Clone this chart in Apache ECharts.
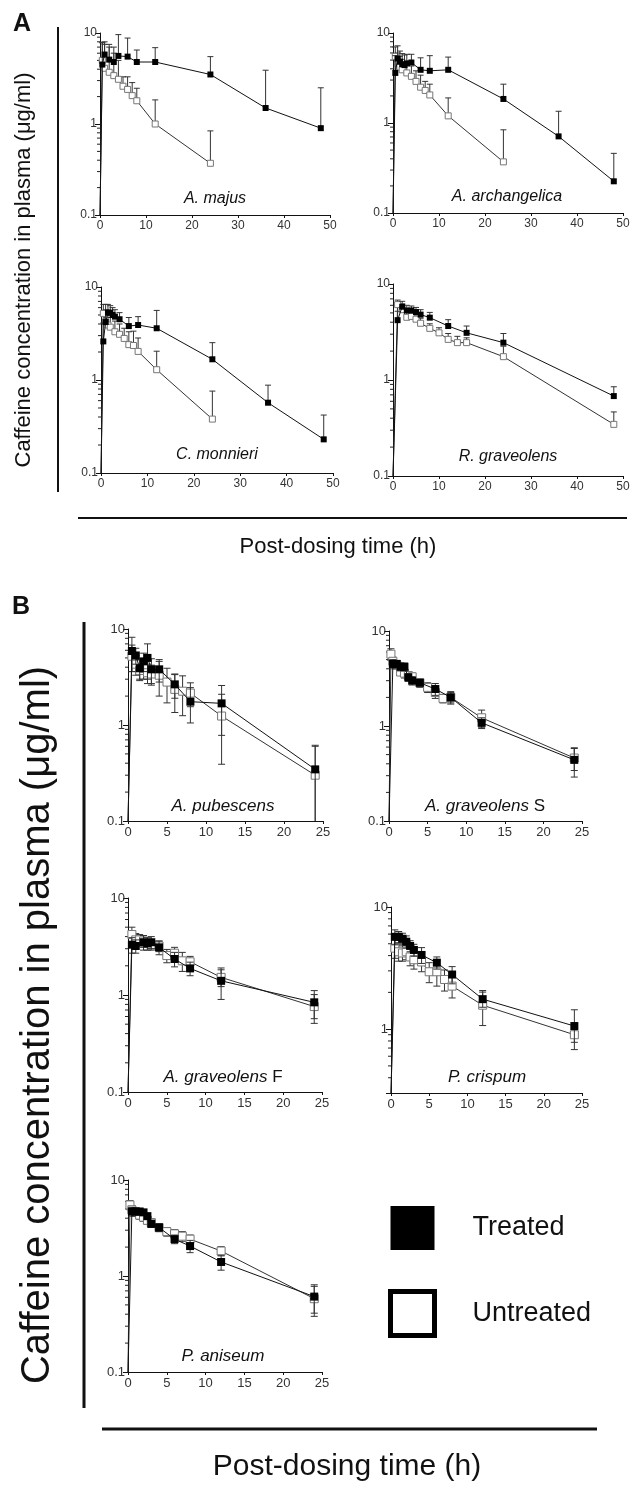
<!DOCTYPE html>
<html>
<head>
<meta charset="utf-8">
<script src="https://cdn.jsdelivr.net/npm/echarts@6/dist/echarts.min.js"></script>
<style>
  html, body { margin: 0; padding: 0; background: #fff; }
  #chart { width: 633px; height: 1488px; }
</style>
</head>
<body>
<div id="chart"></div>
<script>
// caffeine in plasma, each row = [time (h), mean (ug/ml), sd]
// time 0 -> nothing measured yet, drawn on the axis floor

// --- panel A ---
const majusT = [[0,0,0],[0.5,4.5,3.4],[1,5.8,2.2],[2,5.1,2.4],[3,4.8,2.2],[4,5.6,4.0],[6,5.5,3.3],[8,4.8,1.7],[12,4.8,2.1],[24,3.5,2.0],[36,1.5,2.4],[48,0.9,1.6]];
const majusU = [[0,0,0],[0.5,5.0,2.8],[1,4.1,3.4],[2,3.7,3.3],[3,3.4,2.6],[4,3.1,1.9],[5,2.6,0.7],[6,2.4,0.9],[7,2.05,0.8],[8,1.8,0.67],[12,1.0,0.84],[24,0.37,0.47]];
const archT = [[0,0,0],[0.5,3.6,2.0],[1,5.2,2.0],[1.5,4.8,1.5],[2,4.5,1.4],[2.5,4.4,1.3],[3,4.6,1.2],[4,4.7,1.1],[6,3.9,1.4],[8,3.8,1.8],[12,3.9,1.5],[24,1.85,0.85],[36,0.71,0.64],[48,0.225,0.235]];
const archU = [[0,0,0],[0.5,5.5,1.5],[1,4.6,1.4],[1.5,4.2,1.3],[2,3.9,1.2],[3,3.6,1.1],[4,3.3,1.0],[5,2.9,0.9],[6,2.5,0.9],[7,2.3,0.6],[8,2.05,0.65],[12,1.2,0.7],[24,0.37,0.47]];
const monT = [[0,0,0],[0.5,2.6,1.5],[1,4.2,2.3],[1.5,5.3,1.2],[2,5.3,1.0],[2.5,5.0,1.0],[3,4.8,0.9],[4,4.5,0.8],[6,3.8,0.9],[8,3.9,0.9],[12,3.6,2.0],[24,1.67,0.85],[36,0.57,0.31],[48,0.23,0.19]];
const monU = [[0,0,0],[0.5,5.2,1.3],[1,4.2,1.5],[1.5,3.9,1.2],[2,3.7,1.0],[3,3.3,1.0],[4,3.1,0.9],[5,2.8,0.8],[6,2.4,0.9],[7,2.35,1.0],[8,2.03,0.8],[12,1.29,0.75],[24,0.38,0.38]];
const rueT = [[0,0,0],[1,4.2,1.0],[2,5.8,0.8],[3,5.3,0.7],[4,5.3,0.6],[5,5.1,0.6],[6,4.8,0.6],[8,4.46,0.6],[12,3.65,0.6],[16,3.1,0.55],[24,2.45,0.6],[48,0.68,0.17]];
const rueU = [[0,0,0],[1,6.1,0.7],[2,5.4,0.8],[3,4.5,0.6],[4,4.6,0.6],[5,4.3,0.5],[6,3.9,0.5],[8,3.45,0.4],[10,3.1,0.4],[12,2.65,0.4],[14,2.45,0.4],[16,2.45,0.3],[24,1.75,0.5],[48,0.345,0.12]];

// --- panel B ---
const pubT = [[0,0,0],[0.5,5.9,2.3],[1,5.3,1.0],[1.5,3.9,0.9],[2,4.6,1.0],[2.5,5.0,2.0],[3,3.8,1.1],[4,3.8,1.0],[6,2.65,0.75],[8,1.75,0.7],[12,1.68,0.9],[24,0.345,0.27]];
const pubU = [[0,0,0],[0.5,5.2,1.6],[1,4.3,1.0],[1.5,3.7,0.8],[2,3.9,0.9],[2.5,3.5,0.8],[3,3.4,0.8],[4,3.3,1.3],[5,2.8,1.1],[6,2.35,1.0],[7,2.25,1.0],[8,2.15,0.6],[12,1.24,0.85],[24,0.3,0.3]];
const gravST = [[0,0,0],[0.5,4.5,0.5],[1,4.5,0.4],[1.5,4.2,0.4],[2,4.2,0.4],[2.5,3.25,0.3],[3,3.0,0.3],[4,2.85,0.2],[6,2.45,0.35],[8,2.0,0.3],[12,1.08,0.14],[24,0.44,0.15]];
const gravSU = [[0,0,0],[0.25,5.7,0.8],[0.5,4.8,0.5],[1,4.4,0.4],[1.5,3.7,0.3],[2,3.6,0.4],[2.5,3.4,0.3],[3,3.3,0.3],[4,2.85,0.3],[5,2.55,0.3],[6,2.25,0.3],[7,1.95,0.2],[8,2.0,0.25],[12,1.22,0.25],[24,0.46,0.12]];
const gravFT = [[0,0,0],[0.5,3.3,0.6],[1,3.2,0.5],[2,3.5,0.6],[2.5,3.4,0.5],[3,3.5,0.5],[4,3.1,0.5],[6,2.35,0.4],[8,1.88,0.3],[12,1.4,0.5],[24,0.84,0.27]];
const gravFU = [[0,0,0],[0.5,4.2,0.8],[1,3.7,0.6],[1.5,3.7,0.5],[2,3.6,0.5],[3,3.3,0.4],[4,3.2,0.4],[5,2.55,0.4],[6,2.7,0.4],[7,2.25,0.5],[8,2.2,0.3],[12,1.52,0.3],[24,0.76,0.25]];
const crispT = [[0,0,0],[0.5,5.7,0.8],[1,5.7,0.6],[1.5,5.5,0.6],[2,5.2,0.6],[2.5,4.8,0.5],[3,4.45,0.5],[4,4.05,0.6],[6,3.5,0.4],[8,2.8,0.45],[12,1.76,0.25],[24,1.06,0.38]];
const crispU = [[0,0,0],[0.5,4.6,0.8],[1,4.3,0.7],[1.5,4.2,0.6],[2,4.3,0.6],[2.5,3.9,0.6],[3,3.7,0.6],[4,3.55,0.6],[5,2.95,0.55],[6,2.95,0.7],[7,2.55,0.5],[8,2.25,0.45],[12,1.57,0.5],[24,0.9,0.12]];
const aniT = [[0,0,0],[0.5,4.7,0.5],[1,4.7,0.4],[1.5,4.7,0.3],[2,4.6,0.3],[2.5,4.2,0.3],[3,3.5,0.3],[4,3.2,0.3],[6,2.42,0.25],[8,2.05,0.3],[12,1.4,0.25],[24,0.61,0.2]];
const aniU = [[0,0,0],[0.25,5.5,0.6],[0.5,4.9,0.5],[1,4.6,0.4],[1.5,4.3,0.4],[2,4.1,0.4],[2.5,3.8,0.3],[3,3.6,0.3],[4,3.2,0.3],[5,2.9,0.3],[6,2.75,0.3],[7,2.6,0.3],[8,2.42,0.25],[12,1.82,0.2],[24,0.58,0.2]];

const species = ['A. majus', 'A. archangelica', 'C. monnieri', 'R. graveolens',
                 'A. pubescens', 'A. graveolens S', 'A. graveolens F', 'P. crispum', 'P. aniseum'];
const treatedSets = [majusT, archT, monT, rueT, pubT, gravST, gravFT, crispT, aniT];
const untreatedSets = [majusU, archU, monU, rueU, pubU, gravSU, gravFU, crispU, aniU];
const minorTicks = [0.2,0.3,0.4,0.5,0.6,0.7,0.8,0.9,2,3,4,5,6,7,8,9];

const FONT = '"Liberation Sans", Arial, Helvetica, sans-serif';

// plot boxes (pixels). panel A shows +sd only, panel B shows +/- sd
const boxes = [
  { left: 100, top: 33,   width: 230, height: 182, xMax: 50, step: 10, yMin: 0.1, both: false, mark: 6, cap: 6, lab: [215, 199], fs: 16, tfs: 12 },
  { left: 393, top: 33,   width: 230, height: 180, xMax: 50, step: 10, yMin: 0.1, both: false, mark: 6, cap: 6, lab: [507, 197], fs: 16, tfs: 12 },
  { left: 101, top: 287,  width: 232, height: 186, xMax: 50, step: 10, yMin: 0.1, both: false, mark: 6, cap: 6, lab: [217, 455], fs: 16, tfs: 12 },
  { left: 393, top: 284,  width: 230, height: 192, xMax: 50, step: 10, yMin: 0.1, both: false, mark: 6, cap: 6, lab: [508, 457], fs: 16, tfs: 12 },
  { left: 128, top: 629,  width: 195, height: 192, xMax: 25, step: 5,  yMin: 0.1, both: true,  mark: 8, cap: 7, lab: [223, 806], fs: 17, tfs: 13 },
  { left: 389, top: 631,  width: 193, height: 190, xMax: 25, step: 5,  yMin: 0.1, both: true,  mark: 8, cap: 7, lab: [485, 806], fs: 17, tfs: 13 },
  { left: 128, top: 898,  width: 194, height: 194, xMax: 25, step: 5,  yMin: 0.1, both: true,  mark: 8, cap: 7, lab: [223, 1077], fs: 17, tfs: 13 },
  { left: 391, top: 907,  width: 191, height: 186, xMax: 25, step: 5,  yMin: 0.3, both: true,  mark: 8, cap: 7, lab: [487, 1077], fs: 17, tfs: 13 },
  { left: 128, top: 1180, width: 194, height: 192, xMax: 25, step: 5,  yMin: 0.1, both: true,  mark: 8, cap: 7, lab: [223, 1356], fs: 17, tfs: 13 }
];

const chart = echarts.init(document.getElementById('chart'));

function isDecade(v) {
  const l = Math.log10(v);
  return Math.abs(l - Math.round(l)) < 1e-6;
}

function errorBars(i, b, set, z) {
  return {
    type: 'custom', name: 'sd', xAxisIndex: i, yAxisIndex: i, z: z, silent: true, clip: false,
    data: set.filter(d => d[2] > 0),
    encode: { x: 0, y: 1 },
    renderItem: function (params, api) {
      const t = api.value(0), m = api.value(1), sd = api.value(2);
      const hi = api.coord([t, m + sd]);
      const lowVal = b.both ? Math.max(m - sd, b.yMin) : m;
      const lo = api.coord([t, lowVal]);
      const w = b.cap / 2;
      const st = { stroke: '#333', lineWidth: 1 };
      const kids = [
        { type: 'line', shape: { x1: hi[0], y1: hi[1], x2: lo[0], y2: lo[1] }, style: st },
        { type: 'line', shape: { x1: hi[0] - w, y1: hi[1], x2: hi[0] + w, y2: hi[1] }, style: st }
      ];
      if (b.both && m - sd > b.yMin) {
        kids.push({ type: 'line', shape: { x1: lo[0] - w, y1: lo[1], x2: lo[0] + w, y2: lo[1] }, style: st });
      }
      return { type: 'group', children: kids };
    }
  };
}

const series = [];
boxes.forEach((b, i) => {
  // minor log ticks 2..9 on the y axis
  series.push({
    type: 'custom', name: 'ticks', xAxisIndex: i, yAxisIndex: i, silent: true, clip: false,
    data: minorTicks.filter(v => v > b.yMin + 1e-9).map(v => [0, v]),
    renderItem: function (params, api) {
      const c = api.coord([0, api.value(1)]);
      return { type: 'line', shape: { x1: c[0] - 3, y1: c[1], x2: c[0], y2: c[1] }, style: { stroke: '#222', lineWidth: 1 } };
    }
  });
  series.push(errorBars(i, b, untreatedSets[i], 2));
  series.push(errorBars(i, b, treatedSets[i], 4));
  series.push({
    type: 'line', name: 'Untreated', xAxisIndex: i, yAxisIndex: i, z: 3,
    data: untreatedSets[i].map(d => [d[0], Math.max(d[1], b.yMin)]),
    symbol: 'rect', showAllSymbol: true,
    symbolSize: (v, p) => (p.dataIndex === 0 ? 0 : b.mark),
    itemStyle: { color: '#fff', borderColor: '#777', borderWidth: 1 },
    lineStyle: { color: '#333', width: 1 },
    emphasis: { disabled: true }
  });
  series.push({
    type: 'line', name: 'Treated', xAxisIndex: i, yAxisIndex: i, z: 5,
    data: treatedSets[i].map(d => [d[0], Math.max(d[1], b.yMin)]),
    symbol: 'rect', showAllSymbol: true,
    symbolSize: (v, p) => (p.dataIndex === 0 ? 0 : b.mark),
    itemStyle: { color: '#000' },
    lineStyle: { color: '#111', width: 1 },
    emphasis: { disabled: true }
  });
});

function txt(x, y, text, font, extra) {
  return Object.assign({
    type: 'text', x: x, y: y,
    style: { text: text, font: font, fill: '#111', textAlign: 'center', textVerticalAlign: 'middle', align: 'center', verticalAlign: 'middle' }
  }, extra || {});
}

function hline(x1, y1, x2, y2, w) {
  return { type: 'line', shape: { x1: x1, y1: y1, x2: x2, y2: y2 }, style: { stroke: '#111', lineWidth: w } };
}

const graphics = [
  txt(22, 24, 'A', 'bold 25px ' + FONT),
  txt(21, 607, 'B', 'bold 25px ' + FONT),
  hline(58, 27, 58, 492, 2),
  hline(78, 518, 627, 518, 2),
  txt(24, 270, 'Caffeine concentration in plasma (μg/ml)', '22px ' + FONT, { rotation: Math.PI / 2 }),
  txt(338, 547, 'Post-dosing time (h)', '22px ' + FONT),
  hline(84, 622, 84, 1408, 3),
  hline(102, 1429, 597, 1429, 3),
  txt(38, 1025, 'Caffeine concentration in plasma (μg/ml)', '40px ' + FONT, { rotation: Math.PI / 2 }),
  txt(347, 1467, 'Post-dosing time (h)', '30px ' + FONT)
];

boxes.forEach((b, i) => {
  const name = species[i];
  const m = name.match(/^(.*?)( [SF])$/);
  if (m) {
    graphics.push({
      type: 'text', x: b.lab[0], y: b.lab[1],
      style: {
        text: '{i|' + m[1] + '}{n|' + m[2] + '}',
        align: 'center', verticalAlign: 'middle', textAlign: 'center', textVerticalAlign: 'middle',
        rich: {
          i: { font: 'italic ' + b.fs + 'px ' + FONT, fill: '#111' },
          n: { font: b.fs + 'px ' + FONT, fill: '#111' }
        }
      }
    });
  } else {
    graphics.push(txt(b.lab[0], b.lab[1], name, 'italic ' + b.fs + 'px ' + FONT));
  }
});

const option = {
  animation: false,
  backgroundColor: '#fff',
  textStyle: { fontFamily: FONT },
  legend: {
    left: 388, top: 1206, orient: 'vertical', padding: 0,
    itemWidth: 44, itemHeight: 44, itemGap: 39,
    selectedMode: false,
    textStyle: { fontSize: 27, color: '#111', fontFamily: FONT, padding: [0, 0, 0, 33] },
    data: [
      { name: 'Treated', icon: 'rect', itemStyle: { color: '#000', borderWidth: 0 } },
      { name: 'Untreated', icon: 'rect', itemStyle: { color: '#fff', borderColor: '#000', borderWidth: 5 } }
    ]
  },
  grid: boxes.map(b => ({ left: b.left, top: b.top, width: b.width, height: b.height })),
  xAxis: boxes.map((b, i) => ({
    gridIndex: i, type: 'value', min: 0, max: b.xMax, interval: b.step,
    axisLine: { show: true, onZero: false, lineStyle: { color: '#111', width: 1 } },
    axisTick: { show: true, length: 3, lineStyle: { color: '#111' } },
    axisLabel: { fontSize: b.tfs, color: '#333', margin: 5, fontFamily: FONT },
    splitLine: { show: false }
  })),
  yAxis: boxes.map((b, i) => ({
    gridIndex: i, type: 'log', logBase: 10, min: b.yMin, max: 10,
    axisLine: { show: true, onZero: false, lineStyle: { color: '#111', width: 1 } },
    axisTick: { show: true, length: 5, lineStyle: { color: '#111' } },
    axisLabel: {
      fontSize: b.tfs, color: '#333', margin: 3, fontFamily: FONT,
      formatter: v => (isDecade(v) ? String(+(+v).toPrecision(3)) : '')
    },
    splitLine: { show: false }
  })),
  series: series,
  graphic: graphics
};

chart.setOption(option);
</script>
</body>
</html>
